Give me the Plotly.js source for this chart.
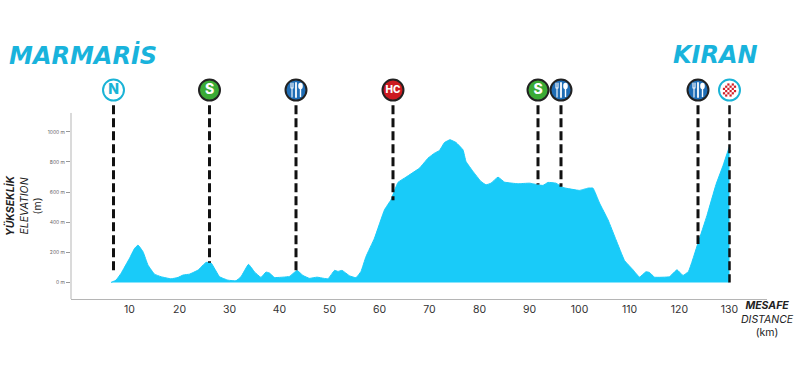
<!DOCTYPE html>
<html><head><meta charset="utf-8">
<script src="https://cdn.plot.ly/plotly-3.0.1.min.js"></script>
<style>html,body{margin:0;padding:0;background:#fff;overflow:hidden}#c{width:800px;height:390px}</style>
</head><body><div id="c"></div>
<script>
const distanceKm=[6.3,7.3,8.3,10,11,11.7,12.7,13.7,15,16.3,18.3,19.7,20.7,22,23.7,25.3,26.3,28,29.7,31.3,32.3,33.8,35,36.3,37.3,38,39,42,43.5,44.7,46,47.5,49.7,51,51.7,52.5,54,55.3,56.3,57.3,59,61,62.3,63.7,65.3,68,69.7,71,72,73,74.1,75.3,76.7,77.3,78.7,80.3,81.3,82.3,83.7,85,87.7,90,91.7,92.7,93.7,95.3,96.7,100,101.7,102.7,104,105.7,107.3,109,110.7,112,113.3,114,115,118,119.5,120.7,121.8,123.7,125.5,127.3,128.7,130];
const elevationM=[0,15,60,160,225,248,204,115,55,38,24,33,49,55,82,133,130,38,15,11,38,120,70,33,69,62,33,40,80,46,27,35,24,80,73,80,44,31,73,172,294,482,549,664,699,759,825,858,876,929,947,929,880,803,737,670,648,659,699,666,655,659,648,644,664,659,630,611,626,626,527,416,283,146,84,35,71,66,35,38,84,46,73,261,445,650,775,905];
const markerKm=[6.8,26,43.3,62.7,91.7,96.3,123.7,130];
const markerStopM=[55,130,75,545,650,635,255,0];
const markerLabels=['N','S','','HC','S','','',''];
const markerFill=['#ffffff','#3aaa35','#1f6db5','#cc1a20','#3aaa35','#1f6db5','#1f6db5','#ffffff'];
const markerEdge=['#1ab3d6','#222222','#222222','#222222','#222222','#222222','#222222','#1ab3d6'];
const markerText=['#1ab3d6','#ffffff','#ffffff','#ffffff','#ffffff','#ffffff','#ffffff','#ffffff'];
const yTicks=[0,200,400,600,800,1000];
const yTickText=['0 m','200 m','400 m','600 m','800 m','1000 m'];
const xTicks=[10,20,30,40,50,60,70,80,90,100,110,120,130];
const ICON_M=1277, LINE_TOP_M=1177, AXIS_TOP_M=1125;

const forkSvg='<svg xmlns="http://www.w3.org/2000/svg" viewBox="0 0 20 20"><g stroke="#fff" fill="none" stroke-linecap="round"><path d="M5 3v5M7 3v5M5 8h2M6 8v9" stroke-width="1.1"/><path d="M10 3v14" stroke-width="1.8"/></g><ellipse cx="14.5" cy="6" rx="2.3" ry="3.2" fill="#fff"/><path d="M14.5 8v9" stroke="#fff" stroke-width="1.4"/></svg>';
let checks='';
for(let r=0;r<6;r++)for(let c=0;c<6;c++){
  if((r+c)%2===0 && Math.hypot(r-2.5,c-2.5)<3.3) checks+='<rect x="'+(c*2.2+3.4)+'" y="'+(r*2.2+3.4)+'" width="2.2" height="2.2" fill="#d3202a"/>';
}
const flagSvg='<svg xmlns="http://www.w3.org/2000/svg" viewBox="0 0 20 20">'+checks+'</svg>';
const uri=s=>'data:image/svg+xml;charset=utf-8,'+encodeURIComponent(s);
const X_RANGE=[-1.7,137.5];
const px=x=>(x-71)/696, py=y=>(299-y)/224;

const traces=[
 {x:distanceKm,y:elevationM,type:'scatter',mode:'lines',fill:'tozeroy',fillcolor:'#19cbf9',
  line:{color:'#19cbf9',width:1,shape:'spline',smoothing:0.3},hoverinfo:'skip'}
];
markerKm.forEach((km,i)=>{
  traces.push({x:[km,km],y:[LINE_TOP_M,markerStopM[i]],type:'scatter',mode:'lines',
    line:{color:'#111',width:i===7?2.5:3,dash:'9px,4px'},hoverinfo:'skip'});
});
traces.push({x:markerKm,y:markerKm.map(()=>ICON_M),type:'scatter',mode:'markers+text',
  text:markerLabels,textposition:'middle center',
  textfont:{family:'Inter, Roboto, sans-serif',size:markerLabels.map(t=>t==='HC'?10:14),color:markerText,weight:800},
  marker:{size:21,color:markerFill,line:{color:markerEdge,width:2}},hoverinfo:'skip'});

const images=markerKm.map((km,i)=>{
  const isFork=markerFill[i]==='#1f6db5', isFlag=i===7;
  if(!isFork&&!isFlag) return null;
  return {source:uri(isFork?forkSvg:flagSvg),xref:'paper',yref:'paper',
    x:(km-X_RANGE[0])/(X_RANGE[1]-X_RANGE[0]),y:py(90),sizex:20/696,sizey:20/224,
    xanchor:'center',yanchor:'middle',sizing:'stretch',layer:'above'};
}).filter(Boolean);

const head={family:'"DejaVu Sans", Inter, sans-serif',size:24,color:'#19b3dc',weight:700,style:'italic'};
const small={family:'Inter, "Open Sans", sans-serif',size:10.5,color:'#222'};
const annotations=[
 {text:'MARMARİS',x:px(7),y:py(55),xanchor:'left',yanchor:'middle',xref:'paper',yref:'paper',showarrow:false,font:head},
 {text:'KIRAN',x:px(671),y:py(55),xanchor:'left',yanchor:'middle',xref:'paper',yref:'paper',showarrow:false,font:head},
 {text:'<b><i>YÜKSEKLİK</i></b><br><i>ELEVATION</i><br>(m)',x:px(23),y:py(206),xanchor:'center',yanchor:'middle',xref:'paper',yref:'paper',showarrow:false,textangle:-90,font:small,align:'center'},
 {text:'<b><i>MESAFE</i></b><br><i>DISTANCE</i><br>(km)',x:px(767),y:py(319),xanchor:'center',yanchor:'middle',xref:'paper',yref:'paper',showarrow:false,font:small,align:'center'}
];
const layout={
 width:800,height:390,showlegend:false,paper_bgcolor:'#fff',plot_bgcolor:'#fff',
 margin:{l:71,r:33,t:75,b:91},
 xaxis:{range:X_RANGE,tickmode:'array',tickvals:xTicks,ticks:'',showgrid:false,zeroline:false,showline:true,linecolor:'#b5b5b5',linewidth:1,
   tickfont:{family:'Inter, sans-serif',size:10.5,color:'#333'},ticklen:0},
 yaxis:{range:[-110,1377],tickmode:'array',tickvals:yTicks,ticktext:yTickText,ticks:'outside',ticklen:4,tickcolor:'#999',showgrid:false,zeroline:false,showline:false,
   tickfont:{family:'Inter, sans-serif',size:5,color:'#666'}},
 shapes:[{type:'line',xref:'paper',yref:'y',x0:0,x1:0,y0:-110,y1:AXIS_TOP_M,line:{color:'#b5b5b5',width:1}}],
 annotations,images
};
Plotly.newPlot('c',traces,layout,{displayModeBar:false,staticPlot:true});
</script></body></html>
